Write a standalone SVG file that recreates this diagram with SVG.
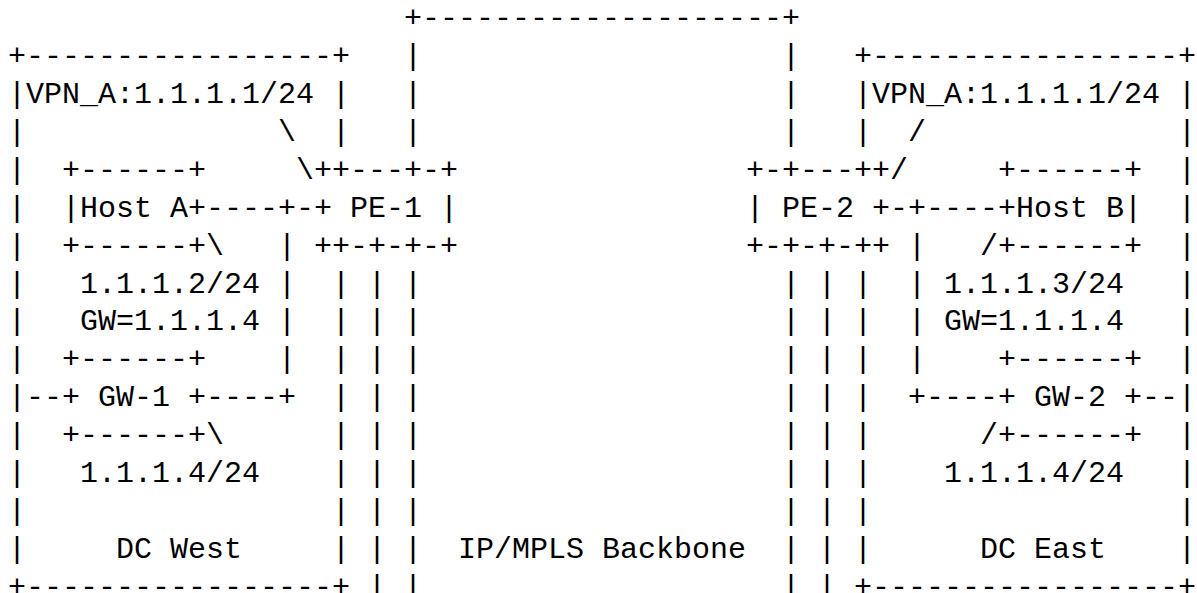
<svg xmlns="http://www.w3.org/2000/svg" width="1197" height="593" viewBox="0 0 1197 593" xml:space="preserve">
<style>
text { font-family: "Liberation Mono", "DejaVu Sans Mono", monospace; font-size: 30px; fill: #000; white-space: pre; }
</style>
<rect x="0" y="0" width="1197" height="593" fill="#fff"/>
<g id="dc-west">
<text><tspan x="8" y="65.1">+-----------------+</tspan><tspan x="8" y="103.0">|VPN_A:1.1.1.1/24 |</tspan><tspan x="8" y="140.9">|</tspan><tspan x="332" y="140.9">|</tspan><tspan x="8" y="178.8">|</tspan><tspan x="8" y="216.7">|</tspan><tspan x="8" y="254.6">|</tspan><tspan x="8" y="292.5">|</tspan><tspan x="8" y="330.4">|</tspan><tspan x="8" y="368.3">|</tspan><tspan x="8" y="406.2">|</tspan><tspan x="8" y="444.1">|</tspan><tspan x="8" y="482.0">|</tspan><tspan x="8" y="519.9">|</tspan><tspan x="332" y="292.5">|</tspan><tspan x="332" y="330.4">|</tspan><tspan x="332" y="368.3">|</tspan><tspan x="332" y="406.2">|</tspan><tspan x="332" y="444.1">|</tspan><tspan x="332" y="482.0">|</tspan><tspan x="332" y="519.9">|</tspan><tspan x="8" y="557.8">|     DC West     |</tspan><tspan x="8" y="595.7">+-----------------+</tspan></text>
</g>
<g id="host-a">
<text><tspan x="62" y="178.8">+------+</tspan><tspan x="62" y="216.7">|Host A+</tspan><tspan x="62" y="254.6">+------+</tspan><tspan x="80" y="292.5">1.1.1.2/24</tspan><tspan x="80" y="330.4">GW=1.1.1.4</tspan></text>
</g>
<g id="gw-1">
<text><tspan x="62" y="368.3">+------+</tspan><tspan x="62" y="406.2">+ GW-1 +</tspan><tspan x="62" y="444.1">+------+</tspan><tspan x="80" y="482.0">1.1.1.4/24</tspan></text>
</g>
<g id="pe-1">
<text><tspan x="314" y="178.8">++---+-+</tspan><tspan x="314" y="216.7">+ PE-1 |</tspan><tspan x="314" y="254.6">++-+-+-+</tspan></text>
</g>
<g id="backbone">
<text><tspan x="404" y="27.2">+--------------------+</tspan><tspan x="404" y="65.1">|</tspan><tspan x="782" y="65.1">|</tspan><tspan x="404" y="103.0">|</tspan><tspan x="782" y="103.0">|</tspan><tspan x="404" y="140.9">|</tspan><tspan x="782" y="140.9">|</tspan><tspan x="404" y="292.5">|</tspan><tspan x="782" y="292.5">|</tspan><tspan x="404" y="330.4">|</tspan><tspan x="782" y="330.4">|</tspan><tspan x="404" y="368.3">|</tspan><tspan x="782" y="368.3">|</tspan><tspan x="404" y="406.2">|</tspan><tspan x="782" y="406.2">|</tspan><tspan x="404" y="444.1">|</tspan><tspan x="782" y="444.1">|</tspan><tspan x="404" y="482.0">|</tspan><tspan x="782" y="482.0">|</tspan><tspan x="404" y="519.9">|</tspan><tspan x="782" y="519.9">|</tspan><tspan x="404" y="557.8">|</tspan><tspan x="782" y="557.8">|</tspan><tspan x="404" y="595.7">|</tspan><tspan x="782" y="595.7">|</tspan><tspan x="458" y="557.8">IP/MPLS Backbone</tspan></text>
</g>
<g id="pe-2">
<text><tspan x="746" y="178.8">+-+---++</tspan><tspan x="746" y="216.7">| PE-2 +</tspan><tspan x="746" y="254.6">+-+-+-++</tspan></text>
</g>
<g id="host-b">
<text><tspan x="998" y="178.8">+------+</tspan><tspan x="998" y="216.7">+Host B|</tspan><tspan x="998" y="254.6">+------+</tspan><tspan x="944" y="292.5">1.1.1.3/24</tspan><tspan x="944" y="330.4">GW=1.1.1.4</tspan></text>
</g>
<g id="gw-2">
<text><tspan x="998" y="368.3">+------+</tspan><tspan x="998" y="406.2">+ GW-2 +</tspan><tspan x="998" y="444.1">+------+</tspan><tspan x="944" y="482.0">1.1.1.4/24</tspan></text>
</g>
<g id="dc-east">
<text><tspan x="854" y="65.1">+-----------------+</tspan><tspan x="854" y="103.0">|VPN_A:1.1.1.1/24 |</tspan><tspan x="854" y="140.9">|</tspan><tspan x="1178" y="140.9">|</tspan><tspan x="1178" y="178.8">|</tspan><tspan x="1178" y="216.7">|</tspan><tspan x="1178" y="254.6">|</tspan><tspan x="1178" y="292.5">|</tspan><tspan x="1178" y="330.4">|</tspan><tspan x="1178" y="368.3">|</tspan><tspan x="1178" y="406.2">|</tspan><tspan x="1178" y="444.1">|</tspan><tspan x="1178" y="482.0">|</tspan><tspan x="1178" y="519.9">|</tspan><tspan x="854" y="292.5">|</tspan><tspan x="854" y="330.4">|</tspan><tspan x="854" y="368.3">|</tspan><tspan x="854" y="406.2">|</tspan><tspan x="854" y="444.1">|</tspan><tspan x="854" y="482.0">|</tspan><tspan x="854" y="519.9">|</tspan><tspan x="854" y="557.8">|      DC East    |</tspan><tspan x="854" y="595.7">+-----------------+</tspan></text>
</g>
<g id="connectors">
<text><tspan x="278" y="140.9">\</tspan><tspan x="908" y="140.9">/</tspan><tspan x="296" y="178.8">\</tspan><tspan x="890" y="178.8">/</tspan><tspan x="206" y="216.7">----+-</tspan><tspan x="890" y="216.7">-+----</tspan><tspan x="206" y="254.6">\</tspan><tspan x="278" y="254.6">|</tspan><tspan x="908" y="254.6">|</tspan><tspan x="980" y="254.6">/</tspan><tspan x="278" y="292.5">|</tspan><tspan x="908" y="292.5">|</tspan><tspan x="278" y="330.4">|</tspan><tspan x="908" y="330.4">|</tspan><tspan x="278" y="368.3">|</tspan><tspan x="908" y="368.3">|</tspan><tspan x="26" y="406.2">--</tspan><tspan x="206" y="406.2">----+</tspan><tspan x="908" y="406.2">+----</tspan><tspan x="1142" y="406.2">--</tspan><tspan x="206" y="444.1">\</tspan><tspan x="980" y="444.1">/</tspan><tspan x="368" y="292.5">|</tspan><tspan x="818" y="292.5">|</tspan><tspan x="368" y="330.4">|</tspan><tspan x="818" y="330.4">|</tspan><tspan x="368" y="368.3">|</tspan><tspan x="818" y="368.3">|</tspan><tspan x="368" y="406.2">|</tspan><tspan x="818" y="406.2">|</tspan><tspan x="368" y="444.1">|</tspan><tspan x="818" y="444.1">|</tspan><tspan x="368" y="482.0">|</tspan><tspan x="818" y="482.0">|</tspan><tspan x="368" y="519.9">|</tspan><tspan x="818" y="519.9">|</tspan><tspan x="368" y="557.8">|</tspan><tspan x="818" y="557.8">|</tspan><tspan x="368" y="595.7">|</tspan><tspan x="818" y="595.7">|</tspan></text>
</g>
</svg>
